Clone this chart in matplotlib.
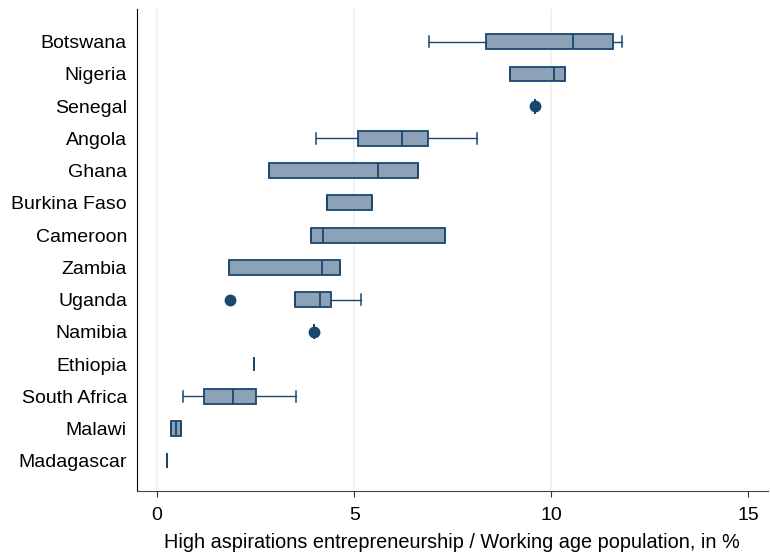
import matplotlib.pyplot as plt

plt.rcParams['font.family'] = ['Liberation Sans', 'DejaVu Sans']

countries = ['Botswana', 'Nigeria', 'Senegal', 'Angola', 'Ghana', 'Burkina Faso',
             'Cameroon', 'Zambia', 'Uganda', 'Namibia', 'Ethiopia', 'South Africa',
             'Malawi', 'Madagascar']
whislo = [6.89, 8.95, 9.58, 4.04, 2.83, 4.30, 3.90, 1.81, 3.50, 3.98, 2.46, 0.66, 0.35, 0.24]
q1 = [8.34, 8.95, 9.58, 5.10, 2.83, 4.30, 3.90, 1.81, 3.50, 3.98, 2.46, 1.20, 0.35, 0.24]
med = [10.55, 10.07, 9.58, 6.20, 5.60, 4.30, 4.22, 4.17, 4.12, 3.98, 2.46, 1.92, 0.48, 0.24]
q3 = [11.56, 10.36, 9.58, 6.87, 6.62, 5.45, 7.31, 4.65, 4.41, 3.98, 2.46, 2.51, 0.60, 0.24]
whishi = [11.80, 10.36, 9.58, 8.12, 6.62, 5.45, 7.31, 4.65, 5.18, 3.98, 2.46, 3.52, 0.60, 0.24]
outliers = [[], [], [9.58], [], [], [], [], [], [1.84], [3.98], [], [], [], []]

navy = '#1a476f'
fill = '#8ca3b7'

stats = []
for i, c in enumerate(countries):
    stats.append(dict(label=c, whislo=whislo[i], q1=q1[i], med=med[i], q3=q3[i],
                      whishi=whishi[i], fliers=outliers[i]))

fig = plt.figure(figsize=(7.7, 5.56), dpi=100)
ax = fig.add_axes([0.1775, 0.1175, 0.8195, 0.8663])

for g in [0, 5, 10]:
    ax.axvline(g, color='#eaf2f3', lw=1.2, zorder=0)

ax.bxp(stats, positions=range(len(countries)), orientation='horizontal',
       widths=0.46, capwidths=0.33, patch_artist=True,
       boxprops=dict(facecolor=fill, edgecolor=navy, linewidth=1.3),
       medianprops=dict(color=navy, linewidth=1.3),
       whiskerprops=dict(color=navy, linewidth=1.0),
       capprops=dict(color=navy, linewidth=1.1),
       flierprops=dict(marker='o', markerfacecolor=navy, markeredgecolor=navy,
                       markersize=7.5))

ax.set_xlim(-0.52, 15.49)
ax.set_ylim(13.93, -1.015)
ax.set_xticks([0, 5, 10, 15])
ax.set_yticks(range(len(countries)))
ax.set_yticklabels(countries)
ax.tick_params(axis='y', length=0, pad=7, labelsize=14)
ax.tick_params(axis='x', length=4.5, pad=7, labelsize=14, color='#333333')
ax.set_xlabel('High aspirations entrepreneurship / Working age population, in %',
              fontsize=14.3, labelpad=7)

for s in ['top', 'right']:
    ax.spines[s].set_visible(False)
ax.spines['left'].set_color('black')
ax.spines['bottom'].set_color('#444444')

plt.savefig('out.png', dpi=100)
